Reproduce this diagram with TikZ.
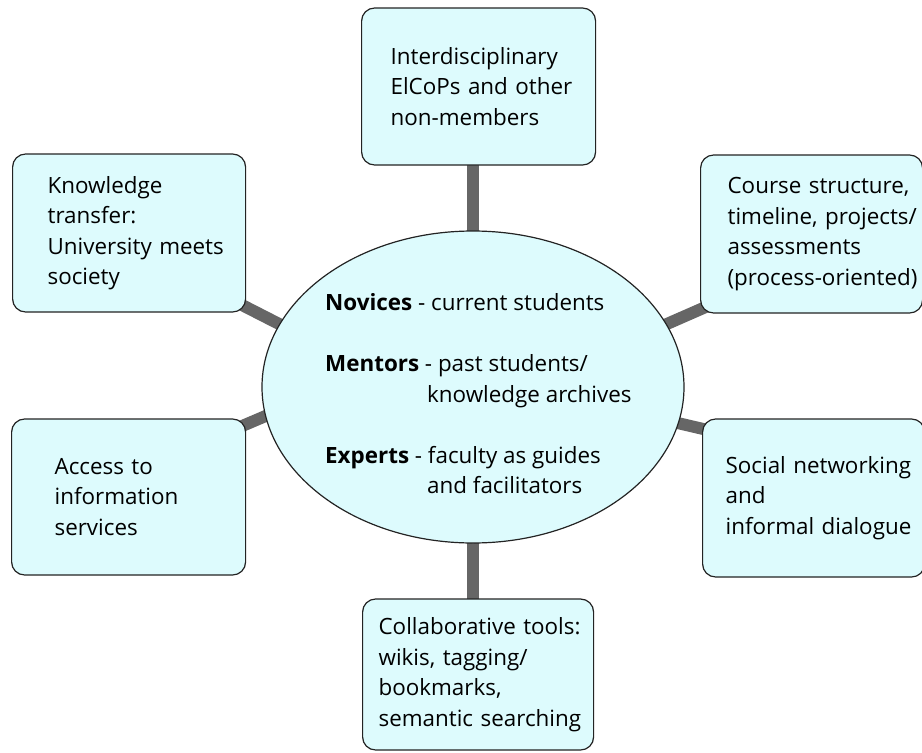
\documentclass[tikz,border=0pt]{standalone}
\usepackage{fontspec}
\setmainfont{Open Sans}
\usetikzlibrary{shapes.geometric,backgrounds}
\definecolor{boxfill}{RGB}{221,251,253}
\definecolor{linkgray}{RGB}{102,102,102}
\definecolor{edge}{RGB}{35,35,35}

\begin{document}
\begin{tikzpicture}[x=1pt,y=-1pt,
  every node/.style={font=\fontsize{22.4}{30.5}\selectfont},
  topic/.style={draw=edge, line width=1.2pt, fill=boxfill, rounded corners=13pt,
    anchor=west, align=left, inner xsep=0pt, inner ysep=0pt},
  hubshape/.style={ellipse, draw=edge, line width=1.2pt, fill=boxfill, inner sep=0pt},
  link/.style={draw=linkgray, line width=12pt, shorten <=-6pt, shorten >=-6pt},
]
\useasboundingbox (0,0) rectangle (922,753);

% central ellipse and its text
\node[hubshape, minimum width=422, minimum height=312] (hub) at (473,387) {};
\node[anchor=west, align=left, inner sep=0pt] (hubtext) at (325,394) {%
  \textbf{Novices} - current students\\[30.5pt]
  \textbf{Mentors} - past students/\\
  \hspace*{102pt}knowledge archives\\[30.5pt]
  \textbf{Experts} - faculty as guides\\
  \hspace*{102pt}and facilitators};

% surrounding topics
\node[topic, text width=234, minimum height=157] (top) at (361,86.5)
  {\leftskip=29pt Interdisciplinary\\ElCoPs and other\\non-members\par};
\node[topic, text width=233, minimum height=158] (kt) at (12,233)
  {\leftskip=35pt Knowledge\\transfer:\\University meets\\society\par};
\node[topic, text width=222, minimum height=158] (cs) at (700,234)
  {\leftskip=27pt Course structure,\\timeline, projects/\\assessments\\(process-oriented)\par};
\node[topic, text width=234, minimum height=156] (ai) at (11,497)
  {\leftskip=43pt Access to\\information\\services\par};
\node[topic, text width=222, minimum height=158] (sn) at (702,498)
  {\leftskip=23pt Social networking\\and\\informal dialogue\par};
\node[topic, text width=231, minimum height=151] (ct) at (362,674.5)
  {\leftskip=16pt Collaborative tools:\\wikis, tagging/\\bookmarks,\\semantic searching\par};

% connectors behind the shapes
\begin{scope}[on background layer]
  \draw[link] (hub.north) -- (hub.north |- top.south);
  \draw[link] (hub.south) -- (hub.south |- ct.north);
  \draw[link] ([xshift=-5pt,yshift=8pt]kt.south east) -- (hub.162);
  \draw[link] ([xshift=-5pt,yshift=-8pt]ai.north east) -- (hub.188.5);
  \draw[link] ([xshift=2pt,yshift=5pt]cs.south west) -- (hub.18);
  \draw[link] ([xshift=3pt,yshift=-11pt]sn.north west) -- (hub.350.4);
\end{scope}
\end{tikzpicture}
\end{document}
